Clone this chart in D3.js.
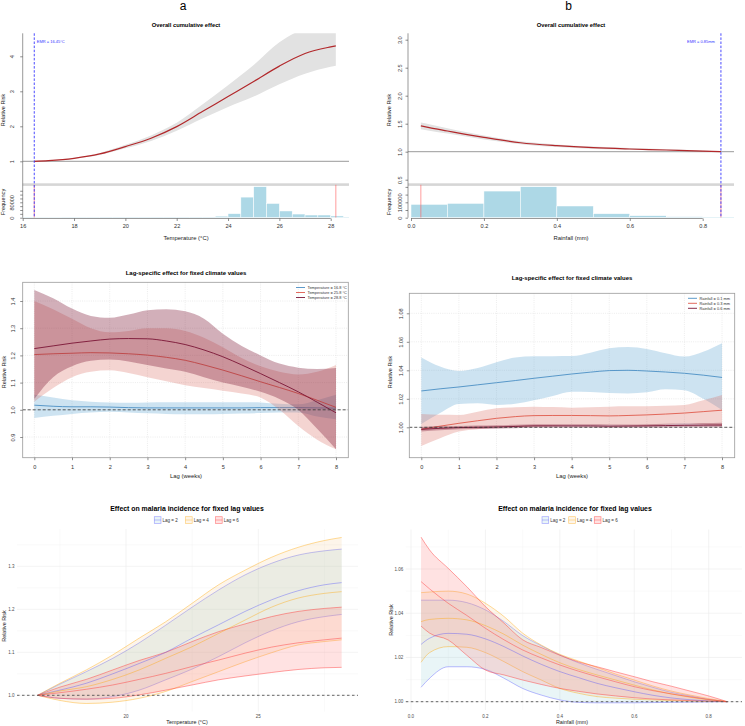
<!DOCTYPE html>
<html>
<head>
<meta charset="utf-8">
<script src="https://cdn.jsdelivr.net/npm/d3@7"></script>
<style>
  body { margin: 0; background: #fff; }
  text { font-family: "Liberation Sans", Arial, sans-serif; }
</style>
</head>
<body>
<div id="chart"></div>
<script>
// ---------- top row: overall cumulative effect ----------
const tempX = [16.45, 17, 18, 19, 20, 21, 22, 23, 24, 25, 26, 27, 28, 28.2];
const tempRR = [1.0, 1.02, 1.086, 1.21, 1.42, 1.66, 1.99, 2.42, 2.85, 3.28, 3.72, 4.08, 4.27, 4.30];
const tempLow = [1.0, 1.015, 1.075, 1.18, 1.37, 1.58, 1.87, 2.22, 2.55, 2.85, 3.2, 3.5, 3.70, 3.73];
const tempHigh = [1.0, 1.025, 1.10, 1.24, 1.47, 1.74, 2.10, 2.62, 3.17, 3.75, 4.40, 4.80, 5.0, 5.0];
const tempBins = [16, 16.5, 17, 17.5, 18, 18.5, 19, 19.5, 20, 20.5, 21, 21.5, 22, 22.5, 23, 23.5, 24, 24.5, 25, 25.5, 26, 26.5, 27, 27.5, 28, 28.5];
const tempCounts = [3000, 2500, 2500, 3000, 3000, 3000, 3500, 3500, 3500, 3500, 3500, 3500, 3500, 3500, 3500, 8000, 21000, 107000, 161000, 74000, 35000, 19000, 14000, 14000, 9000, 3500];
const tempEMR = 16.45;
const tempRange = [16.45, 28.2];

const rainX = [0.027, 0.05, 0.1, 0.15, 0.2, 0.3, 0.4, 0.5, 0.6, 0.7, 0.8, 0.85];
const rainRR = [1.46, 1.43, 1.37, 1.31, 1.256, 1.16, 1.107, 1.071, 1.048, 1.03, 1.012, 1.0];
const rainLow = [1.40, 1.375, 1.325, 1.27, 1.22, 1.135, 1.083, 1.05, 1.035, 1.02, 1.005, 1.0];
const rainHigh = [1.52, 1.49, 1.42, 1.35, 1.29, 1.185, 1.13, 1.092, 1.065, 1.045, 1.02, 1.0];
const rainBins = [0, 0.1, 0.2, 0.3, 0.4, 0.5, 0.6, 0.7, 0.8];
const rainCounts = [86600, 93000, 173000, 201000, 76000, 26000, 13000, 6500, 4300];
const rainEMR = 0.85;
const rainRange = [0.027, 0.85];

const tempTicks = [16, 18, 20, 22, 24, 26, 28];
const tempTickLabels = ["16", "18", "20", "22", "24", "26", "28"];
const rainTicks = [0, 0.2, 0.4, 0.6, 0.8];
const rainTickLabels = ["0.0", "0.2", "0.4", "0.6", "0.8"];
const tempRRTicks = [1, 2, 3, 4];
const tempRRLabels = ["1", "2", "3", "4"];
const rainRRTicks = [0.5, 1.0, 1.5, 2.0, 2.5, 3.0];
const rainRRLabels = ["0.5", "1.0", "1.5", "2.0", "2.5", "3.0"];
const tempFreqTicks = [0, 20000, 40000, 60000, 80000, 100000, 120000, 140000];
const tempFreqLabels = ["0", "", "", "", "80000", "", "", ""];
const rainFreqTicks = [0, 50000, 100000, 150000, 200000];
const rainFreqLabels = ["0", "", "100000", "", ""];

// ---------- middle row: lag-specific effect ----------
const lagWeeks = [0, 0.5, 1, 1.5, 2, 2.5, 3, 3.5, 4, 4.5, 5, 5.5, 6, 6.5, 7, 7.5, 8];
const lagTicks = [0, 1, 2, 3, 4, 5, 6, 7, 8];

const tempNames = ["Temperature = 16.8 °C", "Temperature = 25.8 °C", "Temperature = 28.8 °C"];
const t168 = [1.017, 1.013, 1.011, 1.011, 1.01, 1.008, 1.007, 1.007, 1.007, 1.007, 1.007, 1.007, 1.008, 1.008, 1.008, 1.007, 1.006];
const t168Hi = [1.055, 1.045, 1.035, 1.03, 1.027, 1.026, 1.027, 1.028, 1.028, 1.028, 1.028, 1.028, 1.027, 1.022, 1.02, 1.035, 1.055];
const t168Lo = [0.97, 0.978, 0.985, 0.99, 0.993, 0.99, 0.987, 0.985, 0.984, 0.984, 0.985, 0.986, 0.988, 0.99, 0.99, 0.975, 0.965];
const t258 = [1.203, 1.206, 1.208, 1.21, 1.209, 1.206, 1.201, 1.193, 1.182, 1.165, 1.146, 1.125, 1.103, 1.082, 1.06, 1.035, 1.009];
const t258Hi = [1.40, 1.37, 1.335, 1.30, 1.285, 1.29, 1.30, 1.30, 1.29, 1.265, 1.23, 1.19, 1.16, 1.14, 1.13, 1.14, 1.165];
const t258Lo = [1.03, 1.08, 1.12, 1.14, 1.145, 1.135, 1.12, 1.105, 1.09, 1.08, 1.07, 1.06, 1.045, 1.0, 0.94, 0.89, 0.855];
const t288 = [1.225, 1.235, 1.245, 1.253, 1.26, 1.262, 1.261, 1.253, 1.24, 1.22, 1.195, 1.165, 1.133, 1.10, 1.066, 1.028, 0.989];
const t288Hi = [1.44, 1.41, 1.372, 1.345, 1.338, 1.35, 1.366, 1.37, 1.362, 1.335, 1.28, 1.235, 1.20, 1.17, 1.155, 1.15, 1.154];
const t288Lo = [1.04, 1.12, 1.16, 1.18, 1.185, 1.178, 1.165, 1.152, 1.14, 1.12, 1.10, 1.085, 1.066, 1.04, 1.0, 0.93, 0.855];
const tempLagYTicks = [0.9, 1.0, 1.1, 1.2, 1.3, 1.4];
const tempLagYLabels = ["0.9", "1.0", "1.1", "1.2", "1.3", "1.4"];

const rainNames = ["Rainfall = 0.1 mm", "Rainfall = 0.3 mm", "Rainfall = 0.6 mm"];
const r01 = [1.0255, 1.027, 1.0283, 1.0298, 1.0313, 1.0328, 1.0344, 1.0359, 1.0374, 1.0387, 1.0398, 1.040, 1.0395, 1.0388, 1.0379, 1.0366, 1.035];
const r01Hi = [1.049, 1.0426, 1.0395, 1.0416, 1.0456, 1.0489, 1.0498, 1.0499, 1.050, 1.0524, 1.0554, 1.0564, 1.055, 1.052, 1.0496, 1.053, 1.059];
const r01Lo = [1.0023, 1.01, 1.0164, 1.0168, 1.0157, 1.0165, 1.019, 1.022, 1.025, 1.0248, 1.024, 1.0238, 1.0246, 1.0267, 1.026, 1.02, 1.0122];
const r03 = [0.9986, 1.0008, 1.0028, 1.0046, 1.0063, 1.0075, 1.0082, 1.0083, 1.0083, 1.0082, 1.008, 1.0083, 1.0087, 1.0093, 1.01, 1.011, 1.012];
const r03Hi = [1.0094, 1.0088, 1.0087, 1.011, 1.0133, 1.014, 1.0145, 1.0142, 1.0138, 1.0141, 1.0145, 1.0147, 1.0148, 1.0152, 1.0157, 1.019, 1.0227];
const r03Lo = [0.9869, 0.9923, 0.997, 0.9986, 0.9998, 1.0002, 1.0005, 1.001, 1.0016, 1.0016, 1.0016, 1.0013, 1.001, 1.0019, 1.0028, 1.002, 1.001];
const r06 = [0.9986, 0.9993, 0.9998, 1.0, 1.0002, 1.0006, 1.001, 1.001, 1.001, 1.001, 1.0008, 1.0009, 1.001, 1.0012, 1.0014, 1.0015, 1.0016];
const r06Hi = [1.0002, 1.0007, 1.001, 1.0012, 1.0014, 1.0018, 1.0022, 1.0022, 1.0022, 1.0021, 1.002, 1.002, 1.0022, 1.0025, 1.0028, 1.003, 1.0032];
const r06Lo = [0.997, 0.9979, 0.9986, 0.9988, 0.999, 0.9994, 0.9998, 0.9998, 0.9998, 0.9998, 0.9996, 0.9998, 0.9998, 0.9999, 1.0, 1.0, 1.0];
const rainLagYTicks = [1.0, 1.02, 1.04, 1.06, 1.08];
const rainLagYLabels = ["1.00", "1.02", "1.04", "1.06", "1.08"];

// ---------- bottom row: effect for fixed lag values ----------
const lagNames = ["Lag = 2", "Lag = 4", "Lag = 6"];
const fixTempX = [16.66, 17.5, 18.5, 19.5, 20.5, 21.5, 22.5, 23.5, 24.5, 25.5, 26.5, 27.5, 28.15];
const ft2Hi = [1.0, 1.026, 1.055, 1.086, 1.122, 1.163, 1.205, 1.245, 1.28, 1.307, 1.326, 1.336, 1.34];
const ft2 = [1.0, 1.012, 1.028, 1.05, 1.074, 1.10, 1.133, 1.164, 1.195, 1.222, 1.243, 1.257, 1.262];
const ft2Lo = [1.0, 0.993, 0.991, 0.997, 1.012, 1.036, 1.061, 1.09, 1.122, 1.15, 1.171, 1.183, 1.188];
const ft4Hi = [1.0, 1.028, 1.059, 1.094, 1.133, 1.171, 1.214, 1.257, 1.291, 1.321, 1.344, 1.36, 1.367];
const ft4 = [1.0, 1.01, 1.02, 1.037, 1.059, 1.086, 1.113, 1.144, 1.175, 1.205, 1.226, 1.237, 1.241];
const ft4Lo = [1.0, 0.988, 0.981, 0.984, 0.993, 1.009, 1.032, 1.055, 1.078, 1.099, 1.117, 1.125, 1.129];
const ft6Hi = [1.0, 1.019, 1.037, 1.059, 1.081, 1.10, 1.125, 1.148, 1.166, 1.183, 1.195, 1.202, 1.205];
const ft6 = [1.0, 1.006, 1.014, 1.024, 1.037, 1.051, 1.067, 1.082, 1.098, 1.112, 1.122, 1.129, 1.133];
const ft6Lo = [1.0, 0.993, 0.991, 0.993, 1.001, 1.012, 1.024, 1.036, 1.045, 1.053, 1.06, 1.064, 1.065];

const fixRainX = [0.027, 0.05, 0.1, 0.15, 0.2, 0.25, 0.3, 0.35, 0.4, 0.45, 0.5, 0.55, 0.6, 0.65, 0.7, 0.75, 0.8, 0.85];
const fr2Hi = [1.0459, 1.0459, 1.0459, 1.0448, 1.0415, 1.0362, 1.0299, 1.0253, 1.0211, 1.0176, 1.0146, 1.0118, 1.009, 1.0065, 1.0042, 1.0026, 1.001, 1.0];
const fr2 = [1.0259, 1.0287, 1.0309, 1.0305, 1.0284, 1.0249, 1.0207, 1.0169, 1.0136, 1.0109, 1.0083, 1.0063, 1.0045, 1.0029, 1.0017, 1.0009, 1.0003, 1.0];
const fr2Lo = [1.0065, 1.0106, 1.0158, 1.0158, 1.0146, 1.0106, 1.006, 1.003, 1.0008, 0.9997, 0.9995, 0.9995, 0.9995, 0.9996, 0.9997, 0.9998, 0.9999, 1.0];
const fr4Hi = [1.0493, 1.0496, 1.050, 1.0487, 1.0445, 1.0385, 1.031, 1.0256, 1.0214, 1.0184, 1.0155, 1.0125, 1.0098, 1.0071, 1.0048, 1.003, 1.0014, 1.0];
const fr4 = [1.0362, 1.0372, 1.0377, 1.037, 1.0344, 1.0305, 1.0256, 1.0214, 1.0176, 1.0146, 1.0121, 1.0098, 1.0075, 1.0053, 1.0035, 1.002, 1.0008, 1.0];
const fr4Lo = [1.0178, 1.0222, 1.0249, 1.0246, 1.0222, 1.0181, 1.0136, 1.0098, 1.006, 1.0038, 1.0023, 1.0016, 1.0011, 1.0008, 1.0005, 1.0003, 1.0001, 1.0];
const fr6Hi = [1.0744, 1.0686, 1.0603, 1.052, 1.043, 1.0355, 1.028, 1.0245, 1.021, 1.018, 1.0158, 1.0135, 1.0113, 1.009, 1.007, 1.0048, 1.0026, 1.0];
const fr6 = [1.0543, 1.051, 1.0445, 1.039, 1.0332, 1.028, 1.0234, 1.0198, 1.0166, 1.0138, 1.0113, 1.009, 1.0068, 1.005, 1.0035, 1.0022, 1.001, 1.0];
const fr6Lo = [1.0342, 1.031, 1.0279, 1.021, 1.0143, 1.0121, 1.0098, 1.0078, 1.006, 1.0047, 1.0035, 1.0026, 1.0018, 1.0012, 1.0008, 1.0005, 1.0003, 1.0];

const fixTempMajor = [20, 25];
const fixTempMinor = [17.5, 22.5, 27.5];
const fixTempYMajor = [1.0, 1.1, 1.2, 1.3];
const fixTempYLabels = ["1.0", "1.1", "1.2", "1.3"];
const fixTempYMinor = [1.05, 1.15, 1.25, 1.35];
const fixRainMajor = [0, 0.2, 0.4, 0.6, 0.8];
const fixRainXLabels = ["0.0", "0.2", "0.4", "0.6", "0.8"];
const fixRainMinor = [0.1, 0.3, 0.5, 0.7];
const fixRainYMajor = [1.0, 1.02, 1.04, 1.06];
const fixRainYLabels = ["1.00", "1.02", "1.04", "1.06"];
const fixRainYMinor = [1.01, 1.03, 1.05, 1.07];

// ---------- svg ----------
const svg = d3.select("#chart").append("svg").attr("width", 745).attr("height", 726);

svg.append("text").attr("x", 183).attr("y", 9.5).attr("text-anchor", "middle").attr("font-size", 12).text("a");
svg.append("text").attr("x", 568.5).attr("y", 9.5).attr("text-anchor", "middle").attr("font-size", 12).text("b");

// R-style left axis with labels turned sideways
function leftAxisR(g, scale, ticks, labels, xPos, off) {
  const a = g.append("g").attr("transform", `translate(${xPos},0)`)
    .call(d3.axisLeft(scale).tickValues(ticks).tickSize(2.5).tickFormat((d, i) => labels[i]));
  a.select(".domain").remove();
  a.attr("font-size", 5.6).attr("font-family", null);
  a.selectAll("line").attr("stroke", "#444").attr("stroke-width", 0.6);
  a.selectAll("text").attr("x", null).attr("dy", null).attr("text-anchor", "middle")
    .attr("fill", "#333").attr("transform", `translate(${-off},0) rotate(-90)`);
}

function bottomAxisR(g, scale, ticks, labels, yPos, pad) {
  const a = g.append("g").attr("transform", `translate(0,${yPos})`)
    .call(d3.axisBottom(scale).tickValues(ticks).tickSize(2.5).tickPadding(pad).tickFormat((d, i) => labels[i]));
  a.select(".domain").remove();
  a.attr("font-size", 5.6).attr("font-family", null);
  a.selectAll("line").attr("stroke", "#444").attr("stroke-width", 0.6);
  a.selectAll("text").attr("fill", "#333");
  return a;
}

function sideLabel(g, x, y, txt, size, fill) {
  g.append("text").attr("transform", `translate(${x},${y}) rotate(-90)`)
    .attr("text-anchor", "middle").attr("font-size", size).attr("fill", fill || "#222").text(txt);
}

// ---------- overall cumulative effect ----------
function drawOverall(c) {
  const g = svg.append("g");
  const top = 33.3, sep = 184.6, bottom = 217.7;
  const x = d3.scaleLinear().domain(c.xDom).range(c.xRng);
  const y = d3.scaleLinear().domain(c.yDom).range(c.yRng);
  const yH = d3.scaleLinear().domain([0, c.hRef]).range([bottom, bottom - 15.4]);

  g.append("clipPath").attr("id", c.id + "rr").append("rect")
    .attr("x", c.left).attr("y", top).attr("width", c.right - c.left).attr("height", sep - top);
  g.append("clipPath").attr("id", c.id + "h").append("rect")
    .attr("x", c.left).attr("y", sep).attr("width", c.right - c.left).attr("height", bottom - sep);

  g.append("text").attr("x", c.titleX).attr("y", 27).attr("text-anchor", "middle")
    .attr("font-size", 5.8).attr("font-weight", "bold").text("Overall cumulative effect");

  const idx = d3.range(c.xs.length);
  const rr = g.append("g").attr("clip-path", `url(#${c.id}rr)`);
  rr.append("path").datum(idx)
    .attr("d", d3.area().x(i => x(c.xs[i])).y0(i => y(c.lo[i])).y1(i => y(c.hi[i])).curve(d3.curveMonotoneX))
    .attr("fill", "#e2e2e2");
  rr.append("line").attr("x1", c.left).attr("x2", c.right).attr("y1", y(1)).attr("y2", y(1))
    .attr("stroke", "#808080").attr("stroke-width", 0.8);
  rr.append("path").datum(idx)
    .attr("d", d3.line().x(i => x(c.xs[i])).y(i => y(c.rr[i])).curve(d3.curveMonotoneX))
    .attr("fill", "none").attr("stroke", "#b2282b").attr("stroke-width", 1.2);

  g.append("rect").attr("x", c.left).attr("y", sep - 1.3).attr("width", c.right - c.left)
    .attr("height", 2.6).attr("fill", "#d6d6d6");

  // histogram of exposure values
  const hg = g.append("g").attr("clip-path", `url(#${c.id}h)`);
  const bw = x(c.bins[1]) - x(c.bins[0]);
  hg.selectAll("rect").data(c.bins).join("rect")
    .attr("x", d => x(d)).attr("width", bw)
    .attr("y", (d, i) => yH(c.counts[i])).attr("height", (d, i) => yH(0) - yH(c.counts[i]))
    .attr("fill", "#add8e6").attr("stroke", "#fff").attr("stroke-width", 0.5);
  c.range.forEach(v => hg.append("line").attr("x1", x(v)).attr("x2", x(v))
    .attr("y1", sep).attr("y2", bottom).attr("stroke", "#ff5a5a").attr("stroke-width", 0.6));

  // reference (EMR) line
  g.append("line").attr("x1", x(c.emr)).attr("x2", x(c.emr)).attr("y1", top).attr("y2", bottom)
    .attr("stroke", "#3535ff").attr("stroke-width", 0.9).attr("stroke-dasharray", "2.5,1.6");
  g.append("text").attr("x", x(c.emr) + c.emrDx).attr("y", 43.2).attr("text-anchor", c.emrAnchor)
    .attr("font-size", 4).attr("fill", "#3535ff").text(c.emrLabel);

  // axes
  g.append("line").attr("x1", c.left).attr("x2", c.left).attr("y1", top).attr("y2", bottom)
    .attr("stroke", "#555").attr("stroke-width", 0.6);
  leftAxisR(g, y, c.yTicks, c.yLabels, c.left, c.yOff);
  leftAxisR(g, yH, c.hTicks, c.hLabels, c.left, c.yOff);
  g.append("line").attr("x1", x(c.xTicks[0])).attr("x2", x(c.xTicks[c.xTicks.length - 1]))
    .attr("y1", 218.5).attr("y2", 218.5).attr("stroke", "#555").attr("stroke-width", 0.6);
  bottomAxisR(g, x, c.xTicks, c.xLabels, 218.5, 3);
  g.append("text").attr("x", c.titleX).attr("y", 239.5).attr("text-anchor", "middle")
    .attr("font-size", 5.9).attr("fill", "#222").text(c.xTitle);
  sideLabel(g, c.left - 17.5, 110, "Relative Risk", 5.6);
  sideLabel(g, c.left - 17.5, 202, "Frequency", 5.6);
}

drawOverall({
  id: "a1", left: 22.7, right: 349, titleX: 186,
  xDom: [16, 28], xRng: [22.7, 330.7], yDom: [1, 4], yRng: [161.3, 56.3], hRef: 80000,
  xs: tempX, rr: tempRR, lo: tempLow, hi: tempHigh, bins: tempBins, counts: tempCounts,
  range: tempRange, emr: tempEMR, emrDx: 2.5, emrAnchor: "start", emrLabel: "EMR = 16.45°C",
  yTicks: tempRRTicks, yLabels: tempRRLabels, hTicks: tempFreqTicks, hLabels: tempFreqLabels, yOff: 8.5,
  xTicks: tempTicks, xLabels: tempTickLabels, xTitle: "Temperature (°C)"
});
drawOverall({
  id: "b1", left: 408, right: 734, titleX: 571,
  xDom: [0, 0.8], xRng: [411, 702.7], yDom: [1, 3], yRng: [151.7, 39.7], hRef: 100000,
  xs: rainX, rr: rainRR, lo: rainLow, hi: rainHigh, bins: rainBins, counts: rainCounts,
  range: rainRange, emr: rainEMR, emrDx: -6, emrAnchor: "end", emrLabel: "EMR = 0.85mm",
  yTicks: rainRRTicks, yLabels: rainRRLabels, hTicks: rainFreqTicks, hLabels: rainFreqLabels, yOff: 6,
  xTicks: rainTicks, xLabels: rainTickLabels, xTitle: "Rainfall (mm)"
});

// ---------- lag-specific effect ----------
const lagColors = ["#4b8fc4", "#e05a4c", "#7a1535"];
const lagFills = ["#62a9d4", "#d8645a", "#7e1a37"];
const lagAlpha = [0.32, 0.28, 0.35];

function drawLag(c) {
  const g = svg.append("g");
  const x = d3.scaleLinear().domain([0, 8]).range(c.xRng);
  const y = d3.scaleLinear().domain(c.yDom).range(c.yRng);
  const [l, r, t, b] = c.box;

  g.append("text").attr("x", c.titleX).attr("y", c.titleY).attr("text-anchor", "middle")
    .attr("font-size", 6).attr("font-weight", "bold").text("Lag-specific effect for fixed climate values");

  // dotted grid
  lagTicks.forEach(v => g.append("line").attr("x1", x(v)).attr("x2", x(v)).attr("y1", t).attr("y2", b)
    .attr("stroke", "#d9d9d9").attr("stroke-width", 0.5).attr("stroke-dasharray", "1,1.2"));
  c.yTicks.forEach(v => g.append("line").attr("x1", l).attr("x2", r).attr("y1", y(v)).attr("y2", y(v))
    .attr("stroke", "#d9d9d9").attr("stroke-width", 0.5).attr("stroke-dasharray", "1,1.2"));

  g.append("clipPath").attr("id", c.id).append("rect").attr("x", l).attr("y", t).attr("width", r - l).attr("height", b - t);
  const pg = g.append("g").attr("clip-path", `url(#${c.id})`);
  const idx = d3.range(lagWeeks.length);
  c.series.forEach((s, k) => {
    pg.append("path").datum(idx)
      .attr("d", d3.area().x(i => x(lagWeeks[i])).y0(i => y(s.lo[i])).y1(i => y(s.hi[i])).curve(d3.curveMonotoneX))
      .attr("fill", lagFills[k]).attr("fill-opacity", lagAlpha[k]);
    pg.append("path").datum(idx)
      .attr("d", d3.line().x(i => x(lagWeeks[i])).y(i => y(s.v[i])).curve(d3.curveMonotoneX))
      .attr("fill", "none").attr("stroke", lagColors[k]).attr("stroke-width", 0.9);
  });
  pg.append("line").attr("x1", l).attr("x2", r).attr("y1", y(1)).attr("y2", y(1))
    .attr("stroke", "#333").attr("stroke-width", 0.8).attr("stroke-dasharray", "3,2");

  g.append("rect").attr("x", l).attr("y", t).attr("width", r - l).attr("height", b - t)
    .attr("fill", "none").attr("stroke", "#9a9a9a").attr("stroke-width", 0.8);

  // legend
  const lg = g.append("g");
  c.names.forEach((n, k) => {
    const yy = c.legY + k * 5;
    lg.append("line").attr("x1", c.legX).attr("x2", c.legX + 9).attr("y1", yy).attr("y2", yy)
      .attr("stroke", lagColors[k]).attr("stroke-width", 0.9);
    lg.append("text").attr("x", c.legX + 11.5).attr("y", yy + 1.4).attr("font-size", 3.9).attr("fill", "#333").text(n);
  });

  leftAxisR(g, y, c.yTicks, c.yLabels, l, c.yOff);
  bottomAxisR(g, x, lagTicks, lagTicks.map(String), b, 4.5);
  g.append("text").attr("x", c.titleX).attr("y", 477.5).attr("text-anchor", "middle")
    .attr("font-size", 5.9).attr("fill", "#222").text("Lag (weeks)");
  sideLabel(g, c.yLabX, 372, "Relative Risk", 5.6);
}

drawLag({
  id: "a2", box: [22.7, 348.3, 282.3, 457.7], xRng: [34.3, 336], yDom: [0.9, 1.4], yRng: [437, 301],
  titleX: 186, titleY: 274.7, yTicks: tempLagYTicks, yLabels: tempLagYLabels, yOff: 8, yLabX: 6,
  names: tempNames, legX: 296, legY: 287.5,
  series: [{ v: t168, hi: t168Hi, lo: t168Lo }, { v: t258, hi: t258Hi, lo: t258Lo }, { v: t288, hi: t288Hi, lo: t288Lo }]
});
drawLag({
  id: "b2", box: [409.3, 734.7, 293.3, 457.7], xRng: [421.3, 722], yDom: [1.0, 1.08], yRng: [427.3, 313.3],
  titleX: 572, titleY: 279.7, yTicks: rainLagYTicks, yLabels: rainLagYLabels, yOff: 6.5, yLabX: 392,
  names: rainNames, legX: 688, legY: 298.3,
  series: [{ v: r01, hi: r01Hi, lo: r01Lo }, { v: r03, hi: r03Hi, lo: r03Lo }, { v: r06, hi: r06Hi, lo: r06Lo }]
});

// ---------- effect for fixed lag values (ggplot style) ----------
const fixLine = ["#4040ff", "#ffa500", "#ff3030"];
const fixLineOp = [0.45, 0.5, 0.55];
const fixFill = ["#7fc4cf", "#f5c88c", "#ff7a7a"];
const fixFillOp = [0.17, 0.18, 0.22];

function drawFixed(c) {
  const g = svg.append("g");
  const x = d3.scaleLinear().domain(c.xDom).range(c.xRng);
  const y = d3.scaleLinear().domain(c.yDom).range(c.yRng);
  const [l, r, t, b] = c.panel;

  g.append("text").attr("x", c.titleX).attr("y", 510.6).attr("text-anchor", "middle")
    .attr("font-size", 6.9).attr("font-weight", "bold").text("Effect on malaria incidence for fixed lag values");

  // grid
  c.xMinor.forEach(v => g.append("line").attr("x1", x(v)).attr("x2", x(v)).attr("y1", t).attr("y2", b).attr("stroke", "#f3f3f3").attr("stroke-width", 0.4));
  c.yMinor.forEach(v => g.append("line").attr("x1", l).attr("x2", r).attr("y1", y(v)).attr("y2", y(v)).attr("stroke", "#f3f3f3").attr("stroke-width", 0.4));
  c.xMajor.forEach(v => g.append("line").attr("x1", x(v)).attr("x2", x(v)).attr("y1", t).attr("y2", b).attr("stroke", "#ebebeb").attr("stroke-width", 0.6));
  c.yMajor.forEach(v => g.append("line").attr("x1", l).attr("x2", r).attr("y1", y(v)).attr("y2", y(v)).attr("stroke", "#ebebeb").attr("stroke-width", 0.6));

  const idx = d3.range(c.xs.length);
  const crv = d3.curveMonotoneX;
  c.series.forEach((s, k) => {
    g.append("path").datum(idx)
      .attr("d", d3.area().x(i => x(c.xs[i])).y0(i => y(s.lo[i])).y1(i => y(s.hi[i])).curve(crv))
      .attr("fill", fixFill[k]).attr("fill-opacity", fixFillOp[k]);
    [s.hi, s.lo].forEach(arr => g.append("path").datum(idx)
      .attr("d", d3.line().x(i => x(c.xs[i])).y(i => y(arr[i])).curve(crv))
      .attr("fill", "none").attr("stroke", fixLine[k]).attr("stroke-opacity", fixLineOp[k]).attr("stroke-width", 0.8));
  });
  c.series.forEach((s, k) => {
    g.append("path").datum(idx)
      .attr("d", d3.line().x(i => x(c.xs[i])).y(i => y(s.v[i])).curve(crv))
      .attr("fill", "none").attr("stroke", fixLine[k]).attr("stroke-opacity", fixLineOp[k]).attr("stroke-width", 0.8);
  });
  g.append("line").attr("x1", l).attr("x2", r).attr("y1", y(1)).attr("y2", y(1))
    .attr("stroke", "#555").attr("stroke-width", 0.9).attr("stroke-dasharray", "2.5,2.5");

  // legend
  lagNames.forEach((n, k) => {
    const lx = c.legX[k];
    g.append("rect").attr("x", lx).attr("y", 516.7).attr("width", 6.7).attr("height", 6.7)
      .attr("fill", fixFill[k]).attr("fill-opacity", fixFillOp[k])
      .attr("stroke", fixLine[k]).attr("stroke-opacity", fixLineOp[k]).attr("stroke-width", 0.7);
    g.append("line").attr("x1", lx).attr("x2", lx + 6.7).attr("y1", 520).attr("y2", 520)
      .attr("stroke", fixLine[k]).attr("stroke-opacity", fixLineOp[k]).attr("stroke-width", 0.7);
    g.append("text").attr("x", lx + 8.2).attr("y", 521.6).attr("font-size", 4.5).attr("fill", "#333").text(n);
  });

  // axis labels
  c.xMajor.forEach((v, i) => g.append("text").attr("x", x(v)).attr("y", 718.3).attr("text-anchor", "middle")
    .attr("font-size", 4.5).attr("fill", "#4d4d4d").text(c.xLabels[i]));
  c.yMajor.forEach((v, i) => g.append("text").attr("x", l - 2.5).attr("y", y(v) + 1.6).attr("text-anchor", "end")
    .attr("font-size", 4.5).attr("fill", "#4d4d4d").text(c.yLabels[i]));
  g.append("text").attr("x", c.xTitleX).attr("y", 724.3).attr("text-anchor", "middle")
    .attr("font-size", 5.4).attr("fill", "#222").text(c.xTitle);
  sideLabel(g, c.yLabX, c.yLabY, "Relative Risk", 5.4);
}

drawFixed({
  panel: [17, 358, 529, 711.6], xDom: [20, 25], xRng: [126, 258.3], yDom: [1.0, 1.3], yRng: [695.3, 566.3],
  titleX: 187, xs: fixTempX, legX: [154.3, 185.5, 215.5],
  xMajor: fixTempMajor, xLabels: ["20", "25"], xMinor: fixTempMinor,
  yMajor: fixTempYMajor, yLabels: fixTempYLabels, yMinor: fixTempYMinor,
  xTitle: "Temperature (°C)", xTitleX: 187, yLabX: 6, yLabY: 626,
  series: [{ v: ft2, hi: ft2Hi, lo: ft2Lo }, { v: ft4, hi: ft4Hi, lo: ft4Lo }, { v: ft6, hi: ft6Hi, lo: ft6Lo }]
});
drawFixed({
  panel: [405.8, 742, 529.5, 710], xDom: [0, 0.8], xRng: [411, 708.7], yDom: [1.0, 1.06], yRng: [701.7, 569],
  titleX: 575, xs: fixRainX, legX: [542, 568.7, 594.3],
  xMajor: fixRainMajor, xLabels: fixRainXLabels, xMinor: fixRainMinor,
  yMajor: fixRainYMajor, yLabels: fixRainYLabels, yMinor: fixRainYMinor,
  xTitle: "Rainfall (mm)", xTitleX: 572, yLabX: 392.5, yLabY: 620,
  series: [{ v: fr2, hi: fr2Hi, lo: fr2Lo }, { v: fr4, hi: fr4Hi, lo: fr4Lo }, { v: fr6, hi: fr6Hi, lo: fr6Lo }]
});
</script>
</body>
</html>
